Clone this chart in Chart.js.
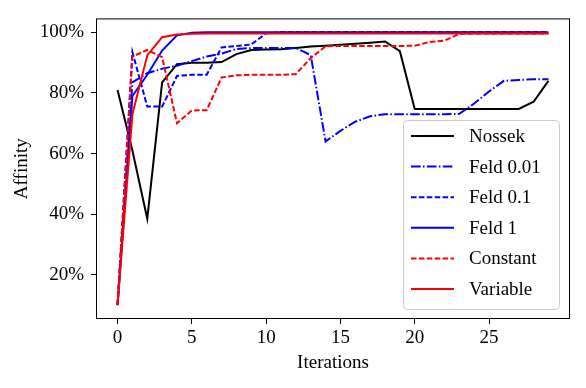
<!DOCTYPE html>
<html>
<head>
<meta charset="utf-8">
<script src="https://cdn.jsdelivr.net/npm/chart.js@4"></script>
<style>
  body { margin: 0; background: #fff; }
  canvas { display: block; }
</style>
</head>
<body>
<canvas id="chart" width="586" height="388"></canvas>
<script>
// iterations 0..29
const iterations = Array.from({ length: 30 }, (_, i) => i);
const xTicks = [0, 5, 10, 15, 20, 25];
const yTicks = [20, 40, 60, 80, 100];

// affinity in percent
const nossek = [81, 61, 38.5, 83.5, 89.5, 90, 90, 90.2, 92.8, 94.2, 94.3, 94.4, 94.8, 95.3, 95.6, 95.9, 96.2, 96.6, 97, 93.8, 74.7, 74.7, 74.7, 74.7, 74.7, 74.7, 74.7, 74.7, 77.1, 84];
const feld001 = [10, 83.5, 86.5, 88, 89, 90.5, 92, 93, 94.5, 94.8, 94.8, 94.8, 94.8, 92.5, 64, 67.5, 70.5, 72.3, 73, 73, 73, 73, 73, 73.1, 76.5, 80.5, 84, 84.3, 84.5, 84.5];
const feld01 = [10, 93.5, 75.5, 75.5, 85.6, 86, 86, 95, 95.5, 96, 99.7, 100, 100, 100, 100, 100, 100, 100, 100, 100, 100, 100, 100, 100, 100, 100, 100, 100, 100, 100];
const feld1 = [10, 79, 86, 94, 99, 99.9, 100, 100, 100, 100, 100, 100, 100, 100, 100, 100, 100, 100, 100, 100, 100, 100, 100, 100, 100, 100, 100, 100, 100, 100];
const constant = [10, 92, 94.2, 91.8, 70, 74.2, 74.3, 85.1, 85.8, 86, 86, 86, 86.2, 91.5, 95.4, 95.5, 95.5, 95.5, 95.5, 95.5, 95.6, 96.8, 97.3, 99.5, 99.6, 99.6, 99.6, 99.6, 99.6, 99.6];
const variable = [10, 73, 92.4, 98.4, 99.3, 99.5, 99.6, 99.6, 99.6, 99.6, 99.6, 99.6, 99.6, 99.6, 99.6, 99.6, 99.6, 99.6, 99.6, 99.6, 99.6, 99.6, 99.6, 99.6, 99.6, 99.6, 99.6, 99.6, 99.6, 99.6];

const FONT = '"Liberation Serif", "DejaVu Serif", serif';

const series = [
  { label: 'Nossek', data: nossek, color: '#000000', dash: [] },
  { label: 'Feld 0.01', data: feld001, color: '#0000ff', dash: [9.6, 2.4, 1.5, 2.4] },
  { label: 'Feld 0.1', data: feld01, color: '#0000ff', dash: [5.5, 2.4] },
  { label: 'Feld 1', data: feld1, color: '#0000ff', dash: [] },
  { label: 'Constant', data: constant, color: '#ff0000', dash: [5.5, 2.4] },
  { label: 'Variable', data: variable, color: '#ff0000', dash: [] },
];

// frame around the plot + legend box in the lower right
const framePlugin = {
  id: 'frame',
  afterDraw(chart) {
    const { ctx, chartArea: a } = chart;
    ctx.save();
    ctx.strokeStyle = '#000';
    ctx.lineWidth = 1;
    ctx.strokeRect(a.left + 0.5, a.top + 0.5, a.right - a.left - 1, a.bottom - a.top - 1);

    // legend
    const w = 156, h = 189;
    const x0 = a.right - 11 - w, y0 = a.bottom - 10 - h;
    ctx.beginPath();
    ctx.roundRect(x0 + 0.5, y0 + 0.5, w, h, 4);
    ctx.fillStyle = 'rgba(255,255,255,0.8)';
    ctx.fill();
    ctx.strokeStyle = '#cccccc';
    ctx.stroke();

    ctx.font = '19px ' + FONT;
    ctx.textBaseline = 'middle';
    ctx.textAlign = 'left';
    series.forEach((s, i) => {
      const y = y0 + 16 + i * 30.6;
      ctx.beginPath();
      ctx.setLineDash(s.dash);
      ctx.strokeStyle = s.color;
      ctx.lineWidth = 2;
      ctx.moveTo(x0 + 8, y);
      ctx.lineTo(x0 + 51, y);
      ctx.stroke();
      ctx.setLineDash([]);
      ctx.fillStyle = '#000';
      ctx.fillText(s.label, x0 + 66, y + 1);
    });
    ctx.restore();
  }
};

new Chart(document.getElementById('chart'), {
  type: 'line',
  data: {
    datasets: series.map((s, i) => ({
      label: s.label,
      data: iterations.map((x, j) => ({ x: x, y: s.data[j] })),
      borderColor: s.color,
      borderDash: s.dash,
      borderWidth: 2,
      pointRadius: 0,
      tension: 0,
      fill: false,
      order: series.length - i,
    })),
  },
  options: {
    responsive: false,
    animation: false,
    layout: { padding: { top: 16, right: 16, left: 0, bottom: 0 } },
    plugins: { legend: { display: false }, tooltip: { enabled: false } },
    scales: {
      x: {
        type: 'linear',
        min: -1.45,
        max: 30.45,
        afterBuildTicks: (scale) => { scale.ticks = xTicks.map(v => ({ value: v })); },
        afterFit: (scale) => { scale.height = 69; },
        grid: { drawOnChartArea: false, drawTicks: true, tickLength: 5, color: '#000', tickWidth: 1 },
        border: { display: false },
        ticks: { color: '#000', font: { family: FONT, size: 19 }, padding: 3, maxRotation: 0 },
        title: { display: true, text: 'Iterations', color: '#000', font: { family: FONT, size: 19 }, padding: { top: 0, bottom: 14 } },
      },
      y: {
        type: 'linear',
        min: 5.4,
        max: 104.6,
        afterBuildTicks: (scale) => { scale.ticks = yTicks.map(v => ({ value: v })); },
        afterFit: (scale) => { scale.width = 96; },
        grid: { drawOnChartArea: false, drawTicks: true, tickLength: 5, color: '#000', tickWidth: 1 },
        border: { display: false },
        ticks: { color: '#000', font: { family: FONT, size: 19 }, padding: 7, callback: v => v + '%' },
        title: { display: true, text: 'Affinity', color: '#000', font: { family: FONT, size: 19 }, padding: { top: 11, bottom: 0 } },
      },
    },
  },
  plugins: [framePlugin],
});
</script>
</body>
</html>
